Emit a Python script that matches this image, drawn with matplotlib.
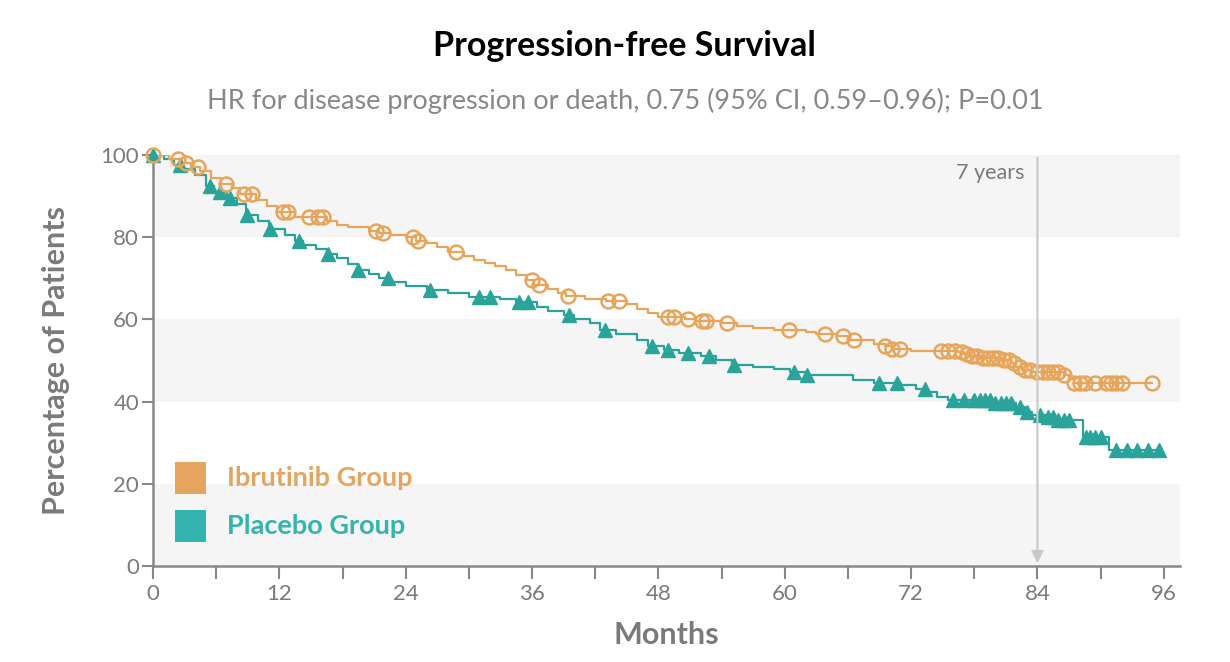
import matplotlib
matplotlib.use("Agg")
import matplotlib.pyplot as plt
import numpy as np
from matplotlib.patches import Rectangle

plt.rcParams['font.family'] = ['Lato', 'DejaVu Sans']

# Ibrutinib group: step times (months) and percentage after each drop
ibr_t = [0, 1.5, 2.8, 3.6, 4.5, 5.5, 6.5, 7.5, 8.3, 9.8, 10.8, 11.8, 13.5, 16.5, 17.5,
         18.5, 20.5, 21.5, 22.5, 24, 25, 26, 27, 28, 29.5, 30.5, 31.5, 32.5, 33.5, 34.5,
         35.5, 36.2, 37.5, 38.5, 39.2, 41, 43, 45, 46, 47, 48, 50.5, 51.5, 54, 55.5, 57,
         59, 62, 63, 65, 66.2, 68.5, 69.5, 70.2, 72, 76.5, 77, 77.5, 78.5, 80.5, 81.5,
         82, 82.5, 83.5, 86.5, 87, 87.5, 94.9]
ibr_s = [100, 99, 98, 97, 96, 94.5, 93, 92, 90.5, 89, 87.5, 86, 85, 84, 83,
         82.5, 81.5, 81, 80.5, 80, 79, 78.5, 77.5, 76.5, 75.5, 74.5, 73.8, 73, 72, 70.8,
         69.5, 68.4, 67.5, 66.5, 65.7, 65, 64.5, 63.8, 62.5, 61.5, 60.5, 60, 59.5, 59, 58.5, 58,
         57.5, 57, 56.5, 56, 55, 54, 53.5, 52.8, 52.3, 52, 51.5, 51, 50.5, 50, 49.5,
         48.5, 47.8, 47.3, 46.5, 45.5, 44.5, 44.5]
ibr_cens = [0, 2.4, 3.1, 4.3, 6.9, 8.6, 9.4, 12.3, 12.8, 14.8, 15.7, 16.1, 21.2, 21.8,
            24.7, 25.2, 28.8, 36.0, 36.7, 39.4, 43.2, 44.3, 48.9, 49.5, 50.8, 52.1, 52.5,
            54.5, 60.4, 63.8, 65.5, 66.6, 69.5, 70.2, 70.9, 74.8, 75.5, 76.2, 76.8, 77.3,
            77.8, 78.3, 78.8, 79.3, 79.8, 80.3, 80.8, 81.3, 81.8, 82.3, 82.8, 83.3, 84.0,
            84.5, 85.0, 85.5, 86.0, 86.5, 87.5, 88.0, 88.5, 89.5, 90.5, 91.0, 91.5, 92.0, 94.9]

# Placebo group
pla_t = [0, 1, 2, 2.8, 4, 5, 5.8, 7, 8, 8.8, 10, 11, 12.5, 13.5, 14.2, 15.5, 16.5, 17.5,
         18.5, 19.5, 20.5, 21.5, 22.5, 24, 26, 28, 30, 33, 34.5, 36.5, 37.5, 39, 40, 41.5,
         42.5, 44, 46, 47, 48.5, 50, 52, 53.5, 55, 57, 59, 60.5, 62, 66.5, 68.5, 71, 72.5,
         73.5, 74.5, 75.5, 80, 82, 82.8, 83.5, 85, 86, 88.3, 90.8, 95.5]
pla_s = [100, 99, 97.5, 96.5, 95, 92.5, 91, 89.5, 88, 85.5, 84, 82, 80.5, 79, 78, 77, 76, 75,
         73.5, 72, 71, 70, 69, 68, 67.2, 66.5, 65.5, 65, 64.2, 63, 62, 61, 60, 59,
         57.5, 56.5, 55, 53.5, 52.5, 51.8, 51, 50.2, 49, 48.5, 48, 47.2, 46.5, 45.3, 44.5, 44, 43,
         42.3, 41, 40.3, 39.6, 38.7, 37.5, 36.8, 36.3, 35.5, 31.5, 28.2, 28.2]
pla_cens = [0, 2.6, 5.4, 6.4, 7.3, 8.9, 11.1, 13.9, 16.6, 19.5, 22.3, 26.3, 31, 32, 34.8,
            35.6, 39.5, 42.9, 47.4, 48.9, 50.8, 52.8, 55.2, 60.9, 62.1, 69, 70.7, 73.3, 76,
            77, 78, 78.5, 79, 79.5, 80, 80.5, 81, 81.5, 82.3, 83, 84.2, 85, 85.5, 86, 86.5,
            87, 88.6, 89, 89.5, 90, 91.5, 92.5, 93.5, 94.5, 95.5]

xticks = [0, 12, 24, 36, 48, 60, 72, 84, 96]
yticks = [0, 20, 40, 60, 80, 100]

orange = '#E8A55A'
teal = '#2AA39B'
gray = '#7a7a7a'


def step_val(t, s, x):
    idx = np.searchsorted(t, x, side='right') - 1
    return np.array(s)[idx]


fig = plt.figure(figsize=(12.3, 6.62), dpi=100)
ax = fig.add_axes([0.1244, 0.145, 0.8346, 0.621])

# background bands
for lo in [0, 40, 80]:
    ax.axhspan(lo, lo + 20, color='#f5f5f5', zorder=0, lw=0)

ax.step(ibr_t, ibr_s, where='post', color=orange, lw=1.6, zorder=3)
ax.step(pla_t, pla_s, where='post', color=teal, lw=1.6, zorder=2)
ax.plot(ibr_cens, step_val(ibr_t, ibr_s, ibr_cens), 'o', ms=10, mfc='none', mec=orange,
        mew=1.8, zorder=4, clip_on=False)
ax.plot(pla_cens, step_val(pla_t, pla_s, pla_cens), '^', ms=10, color=teal, zorder=3,
        clip_on=False)

# 7 year marker
ax.annotate('', xy=(84, 0), xytext=(84, 100),
            arrowprops=dict(arrowstyle='-|>', color='#c8c8c8', lw=1.5, mutation_scale=18),
            zorder=5)
ax.text(82.8, 95.5, '7 years', ha='right', va='center', fontsize=15.5, color=gray)

ax.set_xlim(0, 97.5)
ax.set_ylim(0, 100)
ax.set_xticks(xticks)
ax.set_xticks(np.arange(6, 97, 12), minor=True)
ax.set_yticks(yticks)
for sp in ['top', 'right']:
    ax.spines[sp].set_visible(False)
for sp in ['left', 'bottom']:
    ax.spines[sp].set_color('#888888')
    ax.spines[sp].set_linewidth(1.8)
ax.tick_params(axis='both', which='both', colors='#888888', width=1.5, labelsize=16,
               labelcolor=gray)
ax.tick_params(axis='x', which='major', length=9, pad=4)
ax.tick_params(axis='x', which='minor', length=9)
ax.tick_params(axis='y', length=8, pad=2)

ax.set_xlabel('Months', fontsize=22, fontweight='bold', color=gray, labelpad=12)
ax.set_ylabel('Percentage of Patients', fontsize=22, fontweight='bold', color=gray, labelpad=22)

# legend
for i, (lab, c) in enumerate([('Ibrutinib Group', '#E5A561'), ('Placebo Group', '#35B3AE')]):
    y = 0.215 - i * 0.117
    ax.add_patch(Rectangle((0.021, y - 0.039), 0.031, 0.078, transform=ax.transAxes,
                           color=c, lw=0, zorder=6))
    ax.text(0.072, y, lab, transform=ax.transAxes, fontsize=19.5, fontweight='bold',
            color=c, va='center', ha='left', zorder=6)

fig.text(0.508, 0.93, 'Progression-free Survival', ha='center', va='center',
         fontsize=24.5, fontweight='bold', color='black')
fig.text(0.508, 0.848, 'HR for disease progression or death, 0.75 (95% CI, 0.59\u20130.96); P=0.01',
         ha='center', va='center', fontsize=19.5, color='#888888')

fig.savefig('out.png', dpi=100)
